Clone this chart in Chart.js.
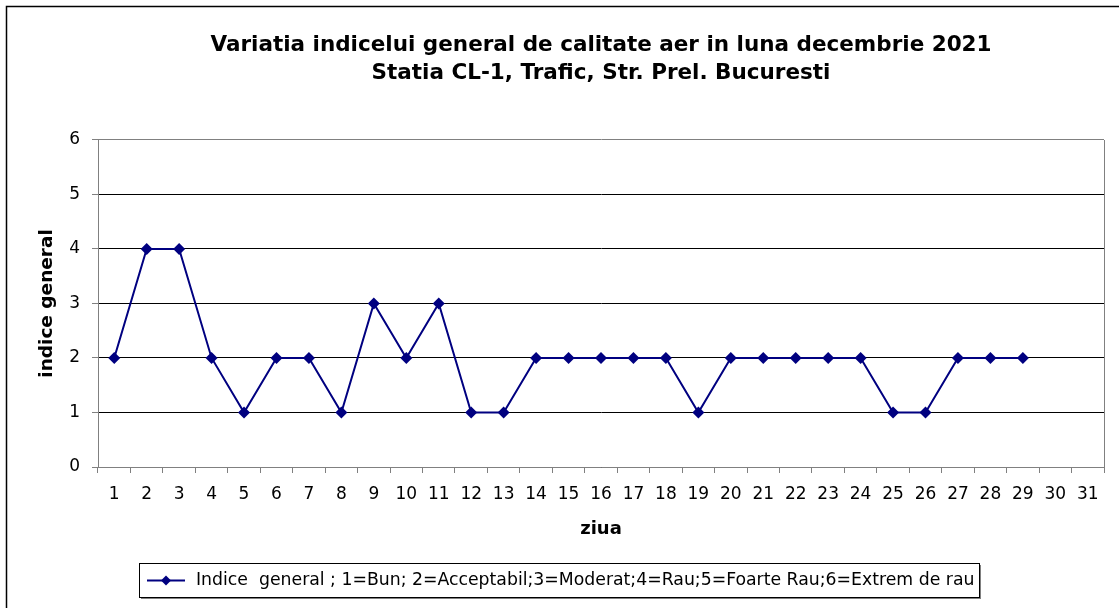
<!DOCTYPE html>
<html>
<head>
<meta charset="utf-8">
<script src="https://cdn.jsdelivr.net/npm/chart.js@4"></script>
<style>
  html, body { margin: 0; padding: 0; background: #fff; }
  #wrap { width: 1119px; height: 608px; position: relative; }
</style>
</head>
<body>
<div id="wrap"><canvas id="aerChart"></canvas></div>
<script>
// zilele lunii decembrie 2021
const days = ['1','2','3','4','5','6','7','8','9','10','11','12','13','14','15','16',
  '17','18','19','20','21','22','23','24','25','26','27','28','29','30','31'];
// indice general (30 si 31 fara date)
const indice = [2,4,4,2,1,2,2,1,3,2,3,1,1,2,2,2,2,2,1,2,2,2,2,2,1,1,2,2,2,null,null];
const seriesLabel = 'Indice  general ; 1=Bun; 2=Acceptabil;3=Moderat;4=Rau;5=Foarte Rau;6=Extrem de rau';
const titleLines = ['Variatia indicelui general de calitate aer in luna decembrie 2021',
  'Statia CL-1, Trafic, Str. Prel. Bucuresti'];

const navy = '#000080';
const FONT = '"DejaVu Sans", Arial, sans-serif';

/** frame around the whole chart, plot border and the boxed legend */
const excelLook = {
  id: 'excelLook',
  beforeDatasetsDraw(chart) {
    const { ctx, chartArea: a } = chart;
    ctx.save();
    ctx.strokeStyle = '#808080';
    ctx.lineWidth = 1;
    ctx.beginPath();
    ctx.moveTo(Math.round(a.right) + 0.5, Math.round(a.bottom));
    ctx.lineTo(Math.round(a.right) + 0.5, Math.round(a.top));
    ctx.stroke();
    ctx.restore();
  },
  afterDraw(chart) {
    const ctx = chart.ctx;
    ctx.save();
    // outer frame (only top and left visible)
    ctx.strokeStyle = '#000';
    ctx.lineWidth = 1.5;
    ctx.beginPath();
    ctx.moveTo(6.5, 608);
    ctx.lineTo(6.5, 6.5);
    ctx.lineTo(1119, 6.5);
    ctx.stroke();

    // legend box
    const lx = 139, ly = 563, lw = 840, lh = 34;
    ctx.fillStyle = '#808080';
    ctx.fillRect(lx + 2, ly + 2, lw, lh);
    ctx.fillStyle = '#fff';
    ctx.fillRect(lx, ly, lw, lh);
    ctx.strokeStyle = '#000';
    ctx.lineWidth = 1;
    ctx.strokeRect(lx + 0.5, ly + 0.5, lw, lh);

    const ds = chart.data.datasets[0];
    const cy = ly + lh / 2 + 0.5;
    ctx.strokeStyle = ds.borderColor;
    ctx.lineWidth = 2;
    ctx.beginPath();
    ctx.moveTo(147, cy);
    ctx.lineTo(185, cy);
    ctx.stroke();
    ctx.fillStyle = ds.pointBackgroundColor;
    ctx.beginPath();
    ctx.moveTo(166, cy - 5);
    ctx.lineTo(171, cy);
    ctx.lineTo(166, cy + 5);
    ctx.lineTo(161, cy);
    ctx.closePath();
    ctx.fill();

    ctx.fillStyle = '#000';
    ctx.font = '17.3px ' + FONT;
    ctx.textBaseline = 'middle';
    ctx.textAlign = 'left';
    ctx.fillText(ds.label, 196, cy);
    ctx.restore();
  }
};

const ctx = document.getElementById('aerChart').getContext('2d');
new Chart(ctx, {
  type: 'line',
  data: {
    labels: days,
    datasets: [{
      label: seriesLabel,
      data: indice,
      borderColor: navy,
      backgroundColor: navy,
      borderWidth: 2,
      tension: 0,
      pointStyle: 'rectRot',
      pointRadius: 6,
      pointBackgroundColor: navy,
      pointBorderColor: navy,
      pointBorderWidth: 0,
      spanGaps: false
    }]
  },
  options: {
    responsive: true,
    maintainAspectRatio: false,
    animation: false,
    layout: { padding: { left: 0, right: 15, top: 0, bottom: 63 } },
    plugins: {
      legend: { display: false },
      tooltip: { enabled: false },
      title: {
        display: true,
        fullSize: false,
        text: titleLines,
        color: '#000',
        font: { family: FONT, size: 21.5, weight: 'bold', lineHeight: 1.3 },
        padding: { top: 31, bottom: 53 }
      }
    },
    scales: {
      x: {
        type: 'category',
        offset: true,
        afterFit(scale) { scale.height = 78; },
        grid: {
          offset: true,
          drawOnChartArea: false,
          color: '#808080',
          tickColor: '#808080',
          tickLength: 6
        },
        border: { color: '#808080', width: 1 },
        ticks: {
          color: '#000',
          font: { family: FONT, size: 17 },
          padding: 11,
          maxRotation: 0,
          autoSkip: false
        },
        title: {
          display: true,
          text: 'ziua',
          color: '#000',
          font: { family: FONT, size: 18, weight: 'bold' },
          padding: { top: 0, bottom: 5 }
        }
      },
      y: {
        min: 0,
        max: 6,
        afterFit(scale) { scale.width = 98; },
        grid: {
          color: c => (c.tick && c.tick.value === 6) ? '#808080' : '#000',
          tickColor: '#808080',
          tickLength: 6
        },
        border: { color: '#808080', width: 1 },
        ticks: {
          stepSize: 1,
          color: '#000',
          font: { family: FONT, size: 17 },
          padding: 12
        },
        title: {
          display: true,
          text: 'indice general',
          color: '#000',
          font: { family: FONT, size: 18.5, weight: 'bold' },
          padding: { top: 36, bottom: 0 }
        }
      }
    }
  },
  plugins: [excelLook]
});
</script>
</body>
</html>
